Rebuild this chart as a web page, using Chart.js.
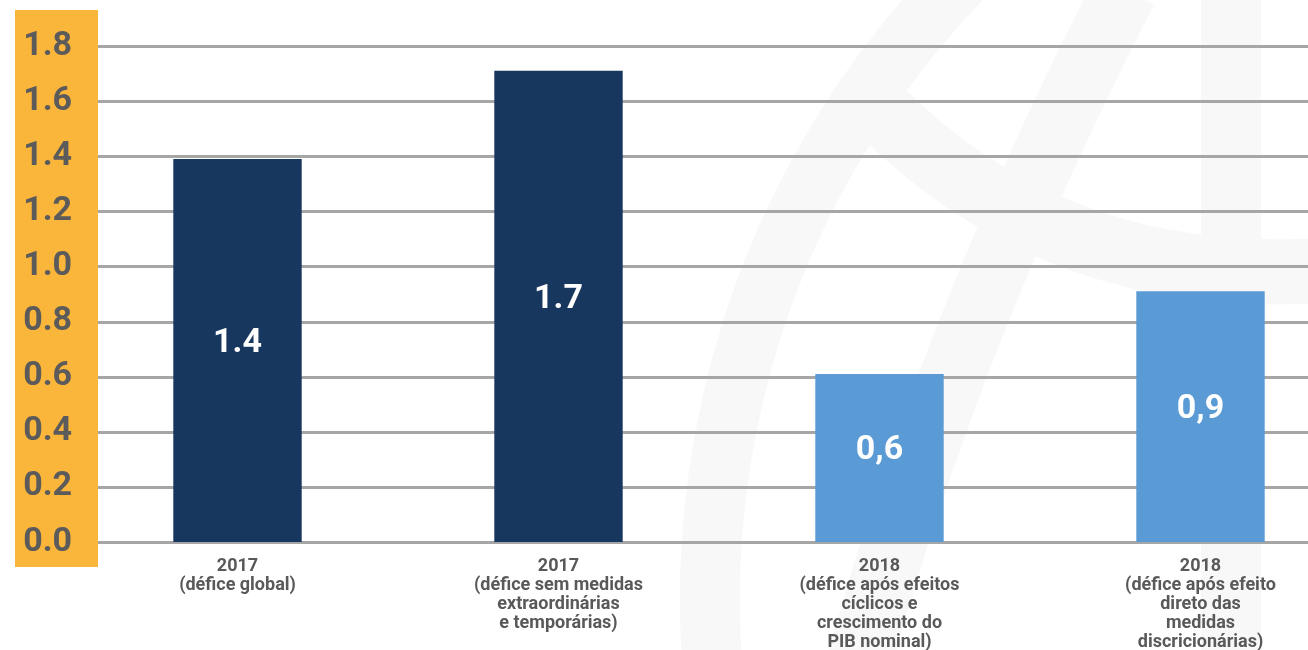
<!DOCTYPE html>
<html>
<head>
<meta charset="utf-8">
<script src="https://cdn.jsdelivr.net/npm/chart.js@4/dist/chart.umd.min.js"></script>
<style>
  html, body { margin: 0; padding: 0; background: #fff; overflow: hidden; }
  #wrap { position: absolute; left: 0; top: 0; width: 1400px; height: 650px; }
</style>
</head>
<body>
<div id="wrap"><canvas id="deficitChart"></canvas></div>
<script>
// categories, values and labels
const categories = [
  ['2017', '(défice global)'],
  ['2017', '(défice sem medidas', 'extraordinárias', 'e temporárias)'],
  ['2018', '(défice após efeitos', 'cíclicos e', 'crescimento do', 'PIB nominal)'],
  ['2018', '(défice após efeito', 'direto das', 'medidas', 'discricionárias)'],
];
const deficitValues = [1.39, 1.71, 0.61, 0.91];
const valueLabels = ['1.4', '1.7', '0,6', '0,9'];
const yTickLabels = ['0.0', '0.2', '0.4', '0.6', '0.8', '1.0', '1.2', '1.4', '1.6', '1.8'];

const NAVY = '#17375e';
const LIGHT = '#5b9bd5';
const barColors = [NAVY, NAVY, LIGHT, LIGHT];

// faint watermark + orange axis strip behind everything
const backdrop = {
  id: 'backdrop',
  beforeDraw(chart) {
    const ctx = chart.ctx;
    ctx.save();
    ctx.strokeStyle = '#f8f8f8';
    ctx.fillStyle = '#f8f8f8';
    ctx.lineWidth = 60;
    ctx.beginPath();
    ctx.arc(1602, 600, 892, Math.PI * 0.95, Math.PI * 1.5);
    ctx.stroke();
    ctx.lineWidth = 65;
    ctx.beginPath();
    ctx.moveTo(1125, -10);
    ctx.quadraticCurveTo(950, 330, 860, 660);
    ctx.stroke();
    ctx.beginPath();
    ctx.moveTo(880, 110);
    ctx.quadraticCurveTo(1060, 290, 1330, 270);
    ctx.stroke();
    ctx.fillRect(1201, 0, 60, 650);
    ctx.fillStyle = '#fab53b';
    ctx.fillRect(15, 10, 83, 557);
    ctx.restore();
  },
  beforeDatasetsDraw(chart) {
    const ctx = chart.ctx;
    const y = chart.scales.y;
    ctx.save();
    ctx.strokeStyle = '#a6a6a6';
    ctx.lineWidth = 3;
    y.ticks.forEach((t, i) => {
      const py = Math.round(y.getPixelForTick(i)) + 0.5;
      ctx.beginPath();
      ctx.moveTo(98, py);
      ctx.lineTo(chart.chartArea.right + 40, py);
      ctx.stroke();
    });
    ctx.restore();
  },
};

// value labels inside the bars
const barLabels = {
  id: 'barLabels',
  afterDatasetsDraw(chart) {
    const ctx = chart.ctx;
    const meta = chart.getDatasetMeta(0);
    ctx.save();
    ctx.fillStyle = '#ffffff';
    ctx.font = 'bold 34px Roboto';
    ctx.textAlign = 'center';
    ctx.textBaseline = 'middle';
    meta.data.forEach((bar, i) => {
      ctx.fillText(valueLabels[i], bar.x, (bar.y + bar.base) / 2 - 7);
    });
    ctx.restore();
  },
};

new Chart(document.getElementById('deficitChart'), {
  type: 'bar',
  data: {
    labels: categories,
    datasets: [{
      data: deficitValues,
      backgroundColor: barColors,
      borderWidth: 0,
      barPercentage: 0.4,
      categoryPercentage: 1,
    }],
  },
  options: {
    responsive: true,
    maintainAspectRatio: false,
    animation: false,
    layout: { padding: { top: 46, right: 39, bottom: 0, left: 0 } },
    plugins: {
      legend: { display: false },
      tooltip: { enabled: false },
    },
    scales: {
      x: {
        grid: { display: false },
        border: { display: false },
        afterFit: s => { s.height = 108; },
        ticks: {
          color: '#595959',
          font: { family: 'Roboto', size: 18, weight: 'bold', lineHeight: 1.06 },
          maxRotation: 0,
          autoSkip: false,
          padding: 7,
        },
      },
      y: {
        min: 0,
        max: 1.8,
        grid: { display: false },
        border: { display: false },
        afterFit: s => { s.width = 77; },
        ticks: {
          stepSize: 0.2,
          color: '#5b5b5b',
          font: { family: 'Roboto', size: 34, weight: 'bold' },
          padding: -3,
          callback: (v, i) => yTickLabels[i],
        },
      },
    },
  },
  plugins: [backdrop, barLabels],
});
</script>
</body>
</html>
